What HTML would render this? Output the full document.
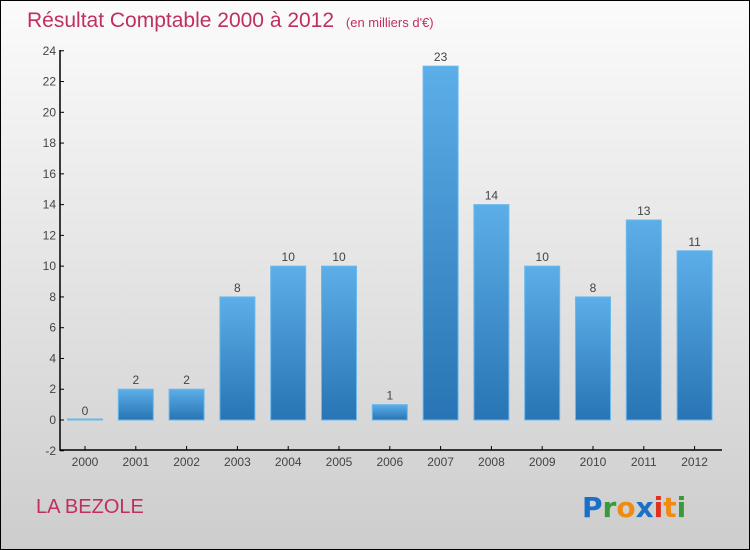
<!DOCTYPE html>
<html><head><meta charset="utf-8"><style>
body{margin:0}
#c{width:750px;height:550px;position:relative;box-sizing:border-box;border:1px solid #000;background:linear-gradient(#fbfbfb,#cdcdcd);font-family:"Liberation Sans",sans-serif;overflow:hidden}
</style></head><body>
<div id="c">
<svg width="750" height="550" style="position:absolute;left:-1px;top:-1px">
<defs><linearGradient id="g" x1="0" y1="0" x2="0" y2="1"><stop offset="0" stop-color="#5caee8"/><stop offset="1" stop-color="#2874b4"/></linearGradient></defs>
<text x="27" y="27" font-size="21" fill="#c0305e">Résultat Comptable 2000 à 2012 <tspan font-size="13" dx="6">(en milliers d'€)</tspan></text>
<g id="plot"></g>
<text x="36" y="513" font-size="20" fill="#c0305e">LA BEZOLE</text>
<g font-size="28" font-weight="bold" font-family="'DejaVu Sans',sans-serif">
<text x="582" y="517"><tspan fill="#1a6fc8">P</tspan><tspan fill="#3a9a3a">r</tspan><tspan fill="#f08a10">o</tspan><tspan fill="#1a6fc8">x</tspan><tspan fill="#e03020">i</tspan><tspan fill="#f08a10">t</tspan><tspan fill="#3a9a3a">i</tspan></text></g>
</svg>
</div>
<script>
const categories=["2000","2001","2002","2003","2004","2005","2006","2007","2008","2009","2010","2011","2012"];
const values=[0,2,2,8,10,10,1,23,14,10,8,13,11];
const yTicks=[-2,0,2,4,6,8,10,12,14,16,18,20,22,24];
const NS="http://www.w3.org/2000/svg";
const g=document.getElementById('plot');
const y=v=>420-v*(400/26);
const x=i=>85+i*50.8;
function mk(t,a){const e=document.createElementNS(NS,t);for(const k in a)e.setAttribute(k,a[k]);g.appendChild(e);return e;}
let ax=mk('path',{d:'M60,50V450H722',stroke:'#000','stroke-width':1.5,fill:'none'});

yTicks.forEach(t=>{const l=mk('line',{x1:60,x2:64,y1:y(t),y2:y(t),stroke:'#000'});

const tx=mk('text',{x:56,y:y(t)+4,'text-anchor':'end','font-size':12,fill:'#444'});tx.textContent=t;
});
categories.forEach((c,i)=>{const v=values[i];const cx=x(i);
const tk=mk('line',{x1:cx,x2:cx,y1:446,y2:450,stroke:'#000'});

const tl=mk('text',{x:cx,y:466,'text-anchor':'middle','font-size':12,fill:'#444'});tl.textContent=c;

const h=Math.max(1,y(0)-y(v));
const b=mk('rect',{x:cx-17.5,y:y(0)-h,width:35,height:h,fill:'url(#g)',stroke:'#6ab8ee','stroke-width':1});

const vl=mk('text',{x:cx,y:y(v)-5,'text-anchor':'middle','font-size':12,fill:'#444'});vl.textContent=v;
});
</script>
</body></html>
